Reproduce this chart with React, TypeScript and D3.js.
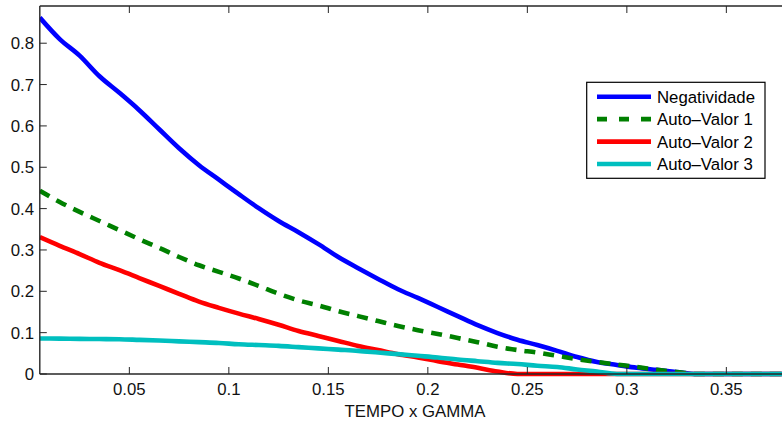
import React from "react";
import * as d3 from "d3";

const xValues = [0.005, 0.015, 0.025, 0.035, 0.045, 0.055, 0.065, 0.075, 0.085, 0.095, 0.105, 0.115, 0.125, 0.135, 0.145, 0.155, 0.165, 0.175, 0.185, 0.195, 0.205, 0.215, 0.225, 0.235, 0.245, 0.255, 0.265, 0.275, 0.285, 0.295, 0.305, 0.315, 0.325, 0.335, 0.345, 0.355, 0.365, 0.375, 0.385, 0.395, 0.405];

const negatividade = [0.862, 0.81, 0.77, 0.72, 0.68, 0.638, 0.592, 0.546, 0.505, 0.47, 0.435, 0.401, 0.37, 0.343, 0.314, 0.283, 0.256, 0.23, 0.205, 0.184, 0.162, 0.14, 0.118, 0.099, 0.083, 0.07, 0.056, 0.041, 0.029, 0.022, 0.015, 0.01, 0.005, 0, 0, 0, 0, 0, 0, 0, 0];
const autoValor1 = [0.443, 0.416, 0.392, 0.37, 0.348, 0.326, 0.305, 0.283, 0.263, 0.247, 0.231, 0.213, 0.194, 0.178, 0.166, 0.152, 0.14, 0.128, 0.116, 0.106, 0.097, 0.087, 0.077, 0.066, 0.058, 0.052, 0.044, 0.036, 0.029, 0.023, 0.017, 0.01, 0.005, 0, 0, 0, 0, 0, 0, 0, 0];
const autoValor2 = [0.331, 0.31, 0.29, 0.269, 0.251, 0.232, 0.213, 0.194, 0.175, 0.16, 0.146, 0.133, 0.119, 0.104, 0.092, 0.08, 0.068, 0.058, 0.048, 0.04, 0.031, 0.023, 0.015, 0.006, 0, 0, 0, 0, 0, 0, 0, 0, 0, 0, 0, 0, 0, 0, 0, 0, 0];
const autoValor3 = [0.086, 0.0855, 0.085, 0.0845, 0.084, 0.0825, 0.081, 0.079, 0.077, 0.075, 0.072, 0.07, 0.068, 0.065, 0.062, 0.059, 0.056, 0.052, 0.048, 0.044, 0.04, 0.035, 0.031, 0.027, 0.024, 0.02, 0.017, 0.011, 0.006, 0, 0, 0, 0, 0, 0, 0, 0, 0, 0, 0, 0];

const seriesNames = ["Negatividade", "Auto–Valor 1", "Auto–Valor 2", "Auto–Valor 3"];
const xTicks = [0.05, 0.1, 0.15, 0.2, 0.25, 0.3, 0.35];
const yTicks = [0, 0.1, 0.2, 0.3, 0.4, 0.5, 0.6, 0.7, 0.8];
const xLabel = "TEMPO x GAMMA";

const W = 782;
const H = 423;
const left = 39.8;
const top = 6;
const bottom = 374;
const font = "'Liberation Sans', Arial, Helvetica, sans-serif";

export default function App() {
  const x = d3.scaleLinear().domain([0.005, 0.405]).range([left, left + 0.4 * 1990]);
  const y = d3.scaleLinear().domain([0, 0.89]).range([bottom, top]);
  const line = d3
    .line<number>()
    .x((_, i) => x(xValues[i]))
    .y((d) => y(d))
    .curve(d3.curveMonotoneX);

  const series = [
    { name: seriesNames[0], data: negatividade, color: "#0000ff", dash: undefined },
    { name: seriesNames[1], data: autoValor1, color: "#008000", dash: "11,8" },
    { name: seriesNames[2], data: autoValor2, color: "#ff0000", dash: undefined },
    { name: seriesNames[3], data: autoValor3, color: "#00bfbf", dash: undefined },
  ];
  const drawOrder = [0, 1, 2, 3];
  const axisColor = "#262626";
  const right = x(0.405);

  return (
    <svg
      width={W}
      height={H}
      style={{ position: "absolute", left: 0, top: 0, background: "#fff" }}
      fontFamily={font}
    >
      <defs>
        <clipPath id="plot">
          <rect x={left} y={top} width={right - left} height={bottom - top + 3} />
        </clipPath>
      </defs>
      <g clipPath="url(#plot)">
        {drawOrder.map((k) => {
          const s = series[k];
          return (
            <path
              key={s.name}
              d={line(s.data) || ""}
              fill="none"
              stroke={s.color}
              strokeWidth={4.6}
              strokeDasharray={s.dash}
              strokeLinejoin="round"
            />
          );
        })}
      </g>
      {/* axes box */}
      <line x1={left} x2={right} y1={bottom} y2={bottom} stroke={axisColor} strokeWidth={1.4} />
      <line x1={left} x2={right} y1={top} y2={top} stroke={axisColor} strokeWidth={1.4} />
      <line x1={left} x2={left} y1={top} y2={bottom} stroke={axisColor} strokeWidth={1.4} />
      {xTicks.map((t) => (
        <g key={"xt" + t}>
          <line x1={x(t)} x2={x(t)} y1={bottom} y2={bottom - 7} stroke={axisColor} strokeWidth={1} />
          <line x1={x(t)} x2={x(t)} y1={top} y2={top + 7} stroke={axisColor} strokeWidth={1} />
          <text x={x(t)} y={395} textAnchor="middle" fontSize={16.8} fill="#111">
            {String(t)}
          </text>
        </g>
      ))}
      {yTicks.map((t) => (
        <g key={"yt" + t}>
          <line x1={left} x2={left + 7} y1={y(t)} y2={y(t)} stroke={axisColor} strokeWidth={1} />
          <text x={34} y={y(t) + 6} textAnchor="end" fontSize={16.8} fill="#111">
            {String(t)}
          </text>
        </g>
      ))}
      <text x={415} y={416.5} textAnchor="middle" fontSize={16.8} fill="#111">
        {xLabel}
      </text>
      {/* legend */}
      <rect x={586.7} y={82.3} width={178.3} height={96} fill="#fff" stroke="#000" strokeWidth={1.2} />
      {series.map((s, i) => {
        const ry = 96.7 + i * 22.45;
        return (
          <g key={"lg" + s.name}>
            <line
              x1={597}
              x2={651}
              y1={ry}
              y2={ry}
              stroke={s.color}
              strokeWidth={4.6}
              strokeDasharray={s.dash ? "10,12" : undefined}
            />
            <text x={657} y={ry + 6} fontSize={16.8} fill="#000">
              {s.name}
            </text>
          </g>
        );
      })}
    </svg>
  );
}
